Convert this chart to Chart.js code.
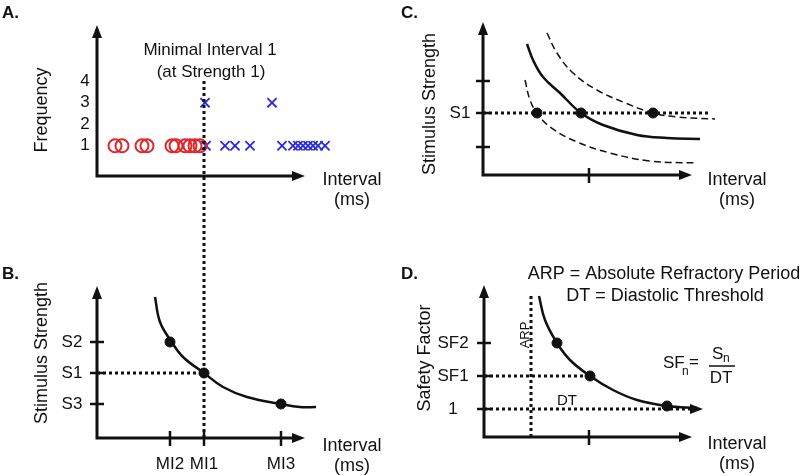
<!DOCTYPE html>
<html>
<head>
<meta charset="utf-8">
<script src="https://cdn.jsdelivr.net/npm/chart.js@4.4.1/dist/chart.umd.min.js"></script>
<style>
  html, body { margin: 0; padding: 0; background: #fff; }
  #wrap { position: relative; width: 800px; height: 476px; }
  #wrap canvas { position: absolute; left: 0; top: 0; }
</style>
</head>
<body>
<div id="wrap">
  <canvas id="panelA" width="800" height="476"></canvas>
  <canvas id="panelB" width="800" height="476"></canvas>
  <canvas id="panelC" width="800" height="476"></canvas>
  <canvas id="panelD" width="800" height="476"></canvas>
</div>
<script>
// ---- Panel A: frequency of captured / not captured intervals
const aCircleX = [1.8, 2.5, 4.5, 5.0, 7.5, 7.9, 8.8, 9.3, 9.8, 10.3];
const aCircleY = [1, 1, 1, 1, 1, 1, 1, 1, 1, 1];
const aCrossX = [10.9, 12.8, 13.8, 15.3, 18.5, 19.6, 20.1, 20.6, 21.1, 21.6, 22.1, 22.8, 10.8, 17.5];
const aCrossY = [1, 1, 1, 1, 1, 1, 1, 1, 1, 1, 1, 1, 3, 3];
const aYTicks = [1, 2, 3, 4];
const aXAxisEnd = 20.8;

// ---- Panel B: strength-interval curve
const bCurveX = [5.8, 6.3, 7.4, 8.6, 10.7, 12.6, 15.0, 18.4, 20.3, 21.9];
const bCurveY = [14.1, 11.6, 9.7, 8.1, 6.5, 5.1, 4.1, 3.4, 3.1, 3.1];
const bStrengthLabels = ['S2', 'S1', 'S3'];
const bStrengthValues = [9.6, 6.5, 3.4];
const bIntervalLabels = ['MI2', 'MI1', 'MI3'];
const bIntervalValues = [7.3, 10.7, 18.4];
const bMinIntervalTop = 35.8; // reaches up into panel A
const bXAxisEnd = 20.8;

// ---- Panel C: shifted curves
const cSolidX = [4.4, 5.0, 6.0, 7.7, 9.8, 12.0, 15.4, 18.4, 21.7];
const cSolidY = [13.1, 11.5, 9.8, 8.2, 6.2, 5.0, 4.0, 3.7, 3.6];
const cUpperX = [6.4, 7.4, 9.0, 11.4, 14.0, 17.0, 19.4, 23.2];
const cUpperY = [14.2, 12.2, 10.2, 8.5, 7.3, 6.2, 5.8, 5.6];
const cLowerX = [4.2, 4.7, 5.4, 6.7, 9.4, 12.7, 16.7, 21.4];
const cLowerY = [9.5, 7.5, 6.2, 4.8, 3.3, 2.2, 1.4, 1.2];
const cDotX = [5.4, 9.8, 17.0];
const cS1 = 6.2;
const cS1End = 22.7;
const cYTicks = [9.4, 6.2, 2.8];
const cYLabels = ['', 'S1', ''];
const cXTicks = [10.6];
const cXAxisEnd = 20.9;

// ---- Panel D: safety factor
const dCurveX = [5.5, 6.1, 7.3, 8.6, 10.6, 12.9, 15.3, 18.3, 21.3];
const dCurveY = [14.1, 11.7, 9.4, 7.7, 6.1, 4.7, 3.7, 3.1, 2.9];
const dDotX = [7.3, 10.6, 18.3];
const dDotY = [9.4, 6.1, 3.1];
const dYTicks = [9.4, 6.1, 2.8];
const dYLabels = ['SF2', 'SF1', '1'];
const dXTicks = [10.5];
const dArp = 4.7;
const dArpTop = 14.4;
const dThreshold = 2.8;
const dThresholdEnd = 21.9;
const dXAxisEnd = 20.8;

const FONT = "'Liberation Sans', Arial, sans-serif";
const INK = '#111';

function pts(xs, ys) {
  return xs.map((x, i) => ({ x: x, y: ys[i] }));
}

function curve(data, extra) {
  return Object.assign({
    data: data, showLine: true, borderColor: INK, borderWidth: 2.5,
    pointRadius: 0, tension: 0.4, clip: false
  }, extra || {});
}

function dotted(data) {
  return { data: data, showLine: true, borderColor: INK, borderWidth: 3,
    borderDash: [3, 3], pointRadius: 0, clip: false };
}

function dots(data) {
  return { data: data, showLine: false, pointRadius: 5, backgroundColor: INK,
    borderColor: INK, clip: false };
}

function text(ctx, s, x, y, size, align, bold) {
  ctx.font = (bold ? 'bold ' : '') + size + 'px ' + FONT;
  ctx.fillStyle = INK;
  ctx.textAlign = align || 'center';
  ctx.textBaseline = 'middle';
  ctx.fillText(s, x, y);
}

function vtext(ctx, s, x, y, size) {
  ctx.save();
  ctx.translate(x, y);
  ctx.rotate(-Math.PI / 2);
  text(ctx, s, 0, 0, size);
  ctx.restore();
}

function head(ctx, x, y, dir) {
  // filled arrow head, tip at (x, y)
  ctx.beginPath();
  if (dir === 'up') {
    ctx.moveTo(x, y); ctx.lineTo(x - 5, y + 13); ctx.lineTo(x + 5, y + 13);
  } else {
    ctx.moveTo(x, y); ctx.lineTo(x - 13, y - 5); ctx.lineTo(x - 13, y + 5);
  }
  ctx.closePath();
  ctx.fill();
}

// axes with arrow heads, tick marks and labels
const decoPlugin = {
  id: 'deco',
  afterDraw(chart, args, o) {
    const ctx = chart.ctx;
    const a = chart.chartArea;
    const xs = chart.scales.x, ys = chart.scales.y;
    ctx.save();
    ctx.strokeStyle = INK;
    ctx.fillStyle = INK;
    ctx.lineWidth = 3;
    const xEnd = xs.getPixelForValue(o.xEnd);
    ctx.beginPath();
    ctx.moveTo(a.left, a.bottom + 1.5);
    ctx.lineTo(a.left, a.top + 8);
    ctx.moveTo(a.left - 1.5, a.bottom);
    ctx.lineTo(xEnd - 8, a.bottom);
    ctx.stroke();
    head(ctx, a.left, a.top, 'up');
    head(ctx, xEnd, a.bottom, 'right');

    ctx.lineWidth = 2.5;
    (o.yTicks || []).forEach(v => {
      const py = ys.getPixelForValue(v);
      ctx.beginPath(); ctx.moveTo(a.left - 7, py); ctx.lineTo(a.left + 7, py); ctx.stroke();
    });
    (o.xTicks || []).forEach(v => {
      const px = xs.getPixelForValue(v);
      ctx.beginPath(); ctx.moveTo(px, a.bottom - 7); ctx.lineTo(px, a.bottom + 8); ctx.stroke();
    });
    (o.yLabels || []).forEach((s, i) => {
      text(ctx, s, o.yLabelX, ys.getPixelForValue(o.yLabelValues[i]), 17, o.yLabelAlign);
    });
    (o.xLabels || []).forEach((s, i) => {
      text(ctx, s, xs.getPixelForValue(o.xLabelValues[i]), o.xLabelY, 17);
    });
    vtext(ctx, o.yTitle, o.yTitlePos[0], o.yTitlePos[1], 18);
    text(ctx, 'Interval', o.xTitlePos[0], o.xTitlePos[1], 18);
    text(ctx, '(ms)', o.xTitlePos[0], o.xTitlePos[1] + 20, 18);
    text(ctx, o.letter, o.letterPos[0], o.letterPos[1], 17, 'left', true);
    if (o.extra) o.extra(chart, ctx);
    ctx.restore();
  }
};

function makeChart(id, datasets, padding, xMax, yMin, yMax, deco) {
  return new Chart(document.getElementById(id), {
    type: 'scatter',
    data: { datasets: datasets },
    options: {
      responsive: false,
      animation: false,
      events: [],
      layout: { padding: padding },
      scales: {
        x: { type: 'linear', min: 0, max: xMax, display: false },
        y: { type: 'linear', min: yMin, max: yMax, display: false }
      },
      plugins: { legend: { display: false }, tooltip: { enabled: false }, deco: deco }
    },
    plugins: [decoPlugin]
  });
}

// Panel A
makeChart('panelA', [
  { data: pts(aCircleX, aCircleY), pointStyle: 'circle', pointRadius: 6.5,
    borderColor: '#e3262b', borderWidth: 2, backgroundColor: 'rgba(0,0,0,0)', clip: false },
  { data: pts(aCrossX, aCrossY), pointStyle: 'crossRot', pointRadius: 6.5,
    borderColor: '#2a2ad8', borderWidth: 1.8, clip: false }
], { left: 97, right: 463, top: 25, bottom: 300 }, 24, -0.4, 6.6, {
  xEnd: aXAxisEnd,
  yLabels: aYTicks.map(String), yLabelValues: aYTicks, yLabelX: 85, yLabelAlign: 'center',
  yTitle: 'Frequency', yTitlePos: [42, 110],
  xTitlePos: [352, 180],
  letter: 'A.', letterPos: [2, 13],
  extra(chart, ctx) {
    text(ctx, 'Minimal Interval 1', 210, 50, 17);
    text(ctx, '(at Strength 1)', 211, 72, 17);
  }
});

// Panel B
makeChart('panelB', [
  curve(pts(bCurveX, bCurveY)),
  dotted([{ x: 0, y: bStrengthValues[1] }, { x: bIntervalValues[1], y: bStrengthValues[1] }]),
  dotted([{ x: bIntervalValues[1], y: 0 }, { x: bIntervalValues[1], y: bMinIntervalTop }]),
  dots(pts(bIntervalValues, bStrengthValues))
], { left: 97, right: 463, top: 286, bottom: 38 }, 24, 0, 15.2, {
  xEnd: bXAxisEnd,
  yTicks: bStrengthValues, xTicks: bIntervalValues,
  yLabels: bStrengthLabels, yLabelValues: bStrengthValues, yLabelX: 72, yLabelAlign: 'center',
  xLabels: bIntervalLabels, xLabelValues: bIntervalValues, xLabelY: 464,
  yTitle: 'Stimulus Strength', yTitlePos: [42, 353],
  xTitlePos: [352, 446],
  letter: 'B.', letterPos: [2, 274]
});

// Panel C
makeChart('panelC', [
  curve(pts(cSolidX, cSolidY)),
  curve(pts(cUpperX, cUpperY), { borderWidth: 1.5, borderDash: [7, 4] }),
  curve(pts(cLowerX, cLowerY), { borderWidth: 1.5, borderDash: [7, 4] }),
  dotted([{ x: 0, y: cS1 }, { x: cS1End, y: cS1 }]),
  dots(cDotX.map(x => ({ x: x, y: cS1 })))
], { left: 483, right: 77, top: 22, bottom: 301 }, 24, 0, 15.3, {
  xEnd: cXAxisEnd,
  yTicks: cYTicks, xTicks: cXTicks,
  yLabels: cYLabels, yLabelValues: cYTicks, yLabelX: 460, yLabelAlign: 'center',
  yTitle: 'Stimulus Strength', yTitlePos: [430, 104],
  xTitlePos: [737, 180],
  letter: 'C.', letterPos: [401, 13]
});

// Panel D
makeChart('panelD', [
  curve(pts(dCurveX, dCurveY)),
  dotted([{ x: 0, y: dYTicks[1] }, { x: dDotX[1], y: dYTicks[1] }]),
  dotted([{ x: 0, y: dThreshold }, { x: dThresholdEnd - 1.2, y: dThreshold }]),
  dotted([{ x: dArp, y: 0 }, { x: dArp, y: dArpTop }]),
  dots(pts(dDotX, dDotY))
], { left: 484, right: 76, top: 285, bottom: 39 }, 24, 0, 15.2, {
  xEnd: dXAxisEnd,
  yTicks: dYTicks, xTicks: dXTicks,
  yLabels: dYLabels, yLabelValues: dYTicks, yLabelX: 453, yLabelAlign: 'center',
  yTitle: 'Safety Factor', yTitlePos: [425, 358],
  xTitlePos: [737, 444],
  letter: 'D.', letterPos: [401, 274],
  extra(chart, ctx) {
    const xs = chart.scales.x, ys = chart.scales.y;
    head(ctx, xs.getPixelForValue(dThresholdEnd), ys.getPixelForValue(dThreshold), 'right');
    text(ctx, 'ARP = Absolute Refractory Period', 664, 274, 18);
    text(ctx, 'DT = Diastolic Threshold', 665, 296, 18);
    vtext(ctx, 'ARP', xs.getPixelForValue(dArp) - 6, 335, 13);
    text(ctx, 'DT', 567, 401, 15);
    // SFn = Sn / DT
    text(ctx, 'SF', 663, 363, 17, 'left');
    text(ctx, 'n', 682, 372, 12, 'left');
    text(ctx, '=', 689, 362, 17, 'left');
    ctx.lineWidth = 1.5;
    ctx.beginPath(); ctx.moveTo(709, 366); ctx.lineTo(735, 366); ctx.stroke();
    text(ctx, 'S', 712, 354, 17, 'left');
    text(ctx, 'n', 723, 359, 12, 'left');
    text(ctx, 'DT', 721, 378, 17);
  }
});
</script>
</body>
</html>
